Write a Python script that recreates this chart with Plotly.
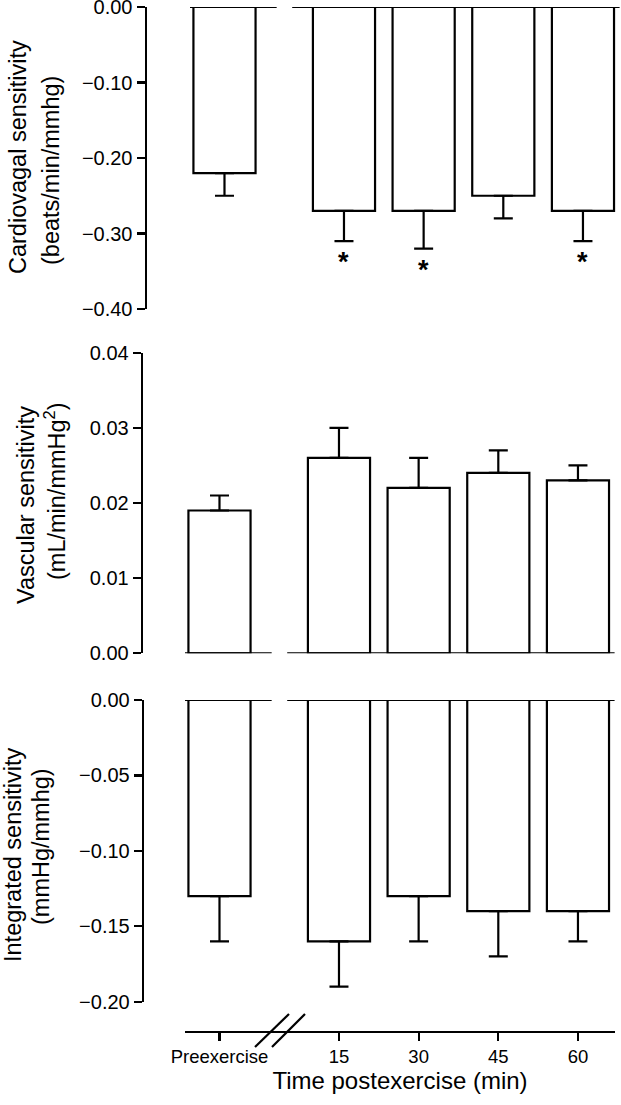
import plotly.graph_objects as go

W, H = 621, 1105
FONT = "Liberation Sans, Arial, sans-serif"

categories = ["Preexercise", "15", "30", "45", "60"]
# category positions on the x scale (gap of 1.5 units after the axis break)
xpos = [0, 1.5, 2.5, 3.5, 4.5]

cardio_mean = [-0.22, -0.27, -0.27, -0.25, -0.27]
cardio_err = [0.03, 0.04, 0.05, 0.03, 0.04]
cardio_sig = [False, True, True, False, True]

vasc_mean = [0.019, 0.026, 0.022, 0.024, 0.023]
vasc_err = [0.002, 0.004, 0.004, 0.003, 0.002]

integ_mean = [-0.13, -0.16, -0.13, -0.14, -0.14]
integ_err = [0.03, 0.03, 0.03, 0.03, 0.02]

cardio_ticks = [0.0, -0.1, -0.2, -0.3, -0.4]
vasc_ticks = [0.0, 0.01, 0.02, 0.03, 0.04]
integ_ticks = [0.0, -0.05, -0.1, -0.15, -0.2]


def fmt(v):
    s = f"{abs(v):.2f}"
    return ("\u2212" + s) if v < 0 else s


def px(x):
    return x / W


def py(y):
    return 1 - y / H


fig = go.Figure()

bar_style = dict(marker=dict(color="white", line=dict(color="black", width=2.2)),
                 width=0.78, showlegend=False, hoverinfo="skip")


def add_panel(mean, err, xa, ya, up):
    fig.add_trace(go.Bar(
        x=xpos, y=mean, xaxis=xa, yaxis=ya, base=0,
        error_y=dict(type="data", symmetric=False,
                     array=err if up else [0] * len(err),
                     arrayminus=[0] * len(err) if up else err,
                     color="black", thickness=2.2, width=9.5),
        **bar_style))


add_panel(cardio_mean, cardio_err, "x", "y", False)
add_panel(vasc_mean, vasc_err, "x2", "y2", True)
add_panel(integ_mean, integ_err, "x3", "y3", False)

xr = [-0.433, 4.965]
common_x = dict(range=xr, showgrid=False, zeroline=False, showline=False,
                showticklabels=False, ticks="", fixedrange=True, automargin=False)
common_y = dict(showgrid=False, zeroline=False, showline=True, linecolor="black",
                linewidth=2.2, ticks="outside", ticklen=8, tickwidth=2.2,
                tickcolor="black", tickmode="array", ticklabeloverflow="allow",
                tickfont=dict(family=FONT, size=20, color="black"),
                anchor="free", fixedrange=True, automargin=False)

fig.update_layout(
    template="none",
    width=W, height=H,
    autosize=False,
    margin=dict(l=0, r=0, t=0, b=0, pad=0, autoexpand=False),
    paper_bgcolor="white", plot_bgcolor="rgba(0,0,0,0)",
    font=dict(family=FONT, color="black"),
    bargap=0,
    xaxis=dict(domain=[px(190), px(620)], anchor="y", **common_x),
    xaxis2=dict(domain=[px(185), px(615)], anchor="y2", **common_x),
    xaxis3=dict(domain=[px(185), px(615)], range=xr, anchor="free",
                position=py(1032), showgrid=False, zeroline=False,
                showline=True, linecolor="black", linewidth=2.2,
                ticks="outside", ticklen=8, tickwidth=2.2, tickcolor="black",
                tickmode="array", tickvals=xpos, ticktext=categories,
                ticklabeloverflow="allow",
                tickfont=dict(family=FONT, size=18.5, color="black"),
                title=dict(text="Time postexercise (min)",
                           font=dict(family=FONT, size=24, color="black"),
                           standoff=5),
                fixedrange=True, automargin=False),
    yaxis=dict(domain=[py(309), py(7)], range=[-0.4, 0], position=px(145.5),
               tickvals=cardio_ticks, ticktext=[fmt(v) for v in cardio_ticks],
               **common_y),
    yaxis2=dict(domain=[py(653.3), py(352.7)], range=[0, 0.04], position=px(141.7),
                tickvals=vasc_ticks, ticktext=[fmt(v) for v in vasc_ticks],
                **common_y),
    yaxis3=dict(domain=[py(1001.7), py(700)], range=[-0.2, 0], position=px(142.7),
                tickvals=integ_ticks, ticktext=[fmt(v) for v in integ_ticks],
                **common_y),
)

# broken zero baselines in each panel
shapes = []
for xa, ya in [("x", "y"), ("x2", "y2"), ("x3", "y3")]:
    for seg in [(-0.46, 0.655), (0.85, 4.96)]:
        shapes.append(dict(type="line", xref=xa, yref=ya, x0=seg[0], x1=seg[1],
                           y0=0, y1=0, line=dict(color="black", width=2.2)))
# axis break slashes on the bottom x-axis
for (x0, y0, x1, y1) in [(255, 1047, 289, 1014), (272, 1047, 305, 1014)]:
    shapes.append(dict(type="line", xref="paper", yref="paper",
                       x0=px(x0), y0=py(y0), x1=px(x1), y1=py(y1),
                       line=dict(color="black", width=2.2)))
fig.update_layout(shapes=shapes)

ann = []
# significance asterisks
for x, m, e, s in zip(xpos, cardio_mean, cardio_err, cardio_sig):
    if s:
        ann.append(dict(x=x, y=m - e, xref="x", yref="y", text="<b>*</b>",
                        showarrow=False, yanchor="top", yshift=-4,
                        font=dict(family=FONT, size=27, color="black")))

# rotated y-axis titles (two lines each)
titles = [
    ("Cardiovagal sensitivity", 18, 157),
    ("(beats/min/mmhg)", 51, 171),
    ("Vascular sensitivity", 26, 505),
    ("(mL/min/mmHg<sup>2</sup>)", 55, 491),
    ("Integrated sensitivity", 13, 855),
    ("(mmHg/mmhg)", 41, 847),
]
for t, x, y in titles:
    ann.append(dict(x=px(x), y=py(y), xref="paper", yref="paper", text=t,
                    textangle=-90, showarrow=False, xanchor="center",
                    yanchor="middle",
                    font=dict(family=FONT, size=23.5, color="black")))
fig.update_layout(annotations=ann)

fig.write_html("out.html",
               config={"displayModeBar": False, "staticPlot": True},
               post_script="document.body.style.margin='0px';"
                           "document.body.style.overflow='hidden';")
